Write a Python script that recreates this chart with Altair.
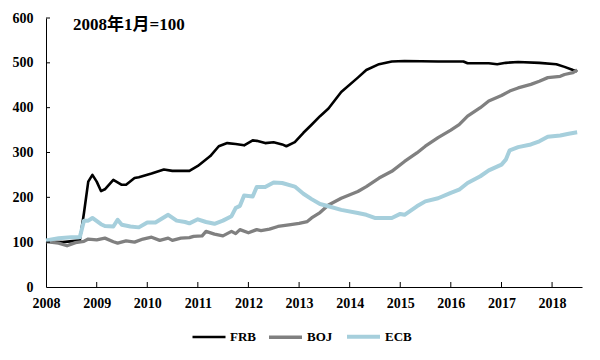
import altair as alt
import pandas as pd

# ---- data (index: Jan 2008 = 100) ----
frb_dates = ["2008-01", "2008-05", "2008-09", "2008-10", "2008-11", "2008-12", "2009-01", "2009-02",
             "2009-03", "2009-05", "2009-07", "2009-08", "2009-10", "2009-11", "2010-02", "2010-05",
             "2010-07", "2010-11", "2011-01", "2011-04", "2011-06", "2011-08", "2011-10", "2011-12",
             "2012-02", "2012-03", "2012-05", "2012-07", "2012-09", "2012-10", "2012-12", "2013-02",
             "2013-04", "2013-06", "2013-08", "2013-11", "2014-03", "2014-05", "2014-08", "2014-11",
             "2015-02", "2015-10", "2016-04", "2016-05", "2016-10", "2016-12", "2017-02", "2017-05",
             "2017-10", "2018-02", "2018-04", "2018-06", "2018-07"]
frb_values = [101, 100, 104, 165, 235, 250, 235, 214,
              218, 239, 228, 228, 243, 245, 253, 262,
              259, 259, 270, 292, 314, 321, 319, 316,
              327, 326, 321, 323, 318, 314, 323, 344,
              362, 381, 398, 435, 467, 484, 497, 503,
              504, 503, 503, 499, 499, 497, 500, 502,
              500, 497, 491, 484, 481]

boj_dates = ["2008-01", "2008-04", "2008-06", "2008-08", "2008-10", "2008-11", "2009-01", "2009-03",
             "2009-05", "2009-06", "2009-08", "2009-10", "2009-12", "2010-02", "2010-04", "2010-06",
             "2010-07", "2010-09", "2010-11", "2010-12", "2011-02", "2011-03", "2011-05", "2011-07",
             "2011-09", "2011-10", "2011-11", "2012-01", "2012-03", "2012-04", "2012-06", "2012-08",
             "2012-11", "2013-01", "2013-03", "2013-04", "2013-06", "2013-08", "2013-11", "2014-03",
             "2014-05", "2014-08", "2014-11", "2015-02", "2015-05", "2015-07", "2015-10", "2016-01",
             "2016-03", "2016-05", "2016-08", "2016-10", "2017-01", "2017-03", "2017-05", "2017-08",
             "2017-10", "2017-12", "2018-03", "2018-04", "2018-06", "2018-07"]
boj_values = [101, 98, 92, 99, 102, 107, 105, 109,
              101, 98, 103, 100, 107, 111, 104, 109,
              104, 109, 110, 113, 114, 124, 118, 114,
              124, 119, 128, 121, 128, 126, 129, 135,
              139, 142, 146, 154, 166, 183, 198, 213,
              224, 243, 258, 280, 299, 314, 333, 350,
              362, 381, 400, 415, 427, 437, 444, 452,
              459, 467, 470, 474, 478, 484]

ecb_dates = ["2008-01", "2008-04", "2008-07", "2008-09", "2008-10", "2008-11", "2008-12", "2009-02",
             "2009-03", "2009-05", "2009-06", "2009-07", "2009-09", "2009-11", "2010-01", "2010-03",
             "2010-06", "2010-08", "2010-10", "2010-11", "2011-01", "2011-03", "2011-05", "2011-07",
             "2011-09", "2011-10", "2011-11", "2011-12", "2012-02", "2012-03", "2012-05", "2012-07",
             "2012-09", "2012-12", "2013-02", "2013-04", "2013-06", "2013-08", "2013-11", "2014-03",
             "2014-05", "2014-07", "2014-11", "2015-01", "2015-02", "2015-05", "2015-07", "2015-10",
             "2016-01", "2016-03", "2016-05", "2016-08", "2016-10", "2017-01", "2017-02", "2017-03",
             "2017-05", "2017-08", "2017-10", "2017-12", "2018-03", "2018-05", "2018-07"]
ecb_values = [104, 109, 111, 111, 148, 148, 154, 140,
              136, 135, 150, 139, 135, 133, 144, 144,
              161, 148, 145, 142, 151, 145, 141, 148,
              158, 176, 181, 204, 202, 223, 223, 233,
              232, 224, 208, 196, 185, 180, 172, 165,
              161, 154, 154, 163, 161, 180, 191, 198,
              210, 217, 232, 247, 260, 273, 284, 305,
              312, 318, 325, 335, 338, 342, 345]

series_names = ["FRB", "BOJ", "ECB"]
series_colors = ["#000000", "#808080", "#a6cfdc"]
series_widths = [2.6, 4, 4]

year_ticks = list(range(2009, 2019))
y_ticks = [100, 200, 300, 400, 500, 600]
title_text = "2008年1月=100"

rows = []
for name, ds, vs in [("FRB", frb_dates, frb_values), ("BOJ", boj_dates, boj_values), ("ECB", ecb_dates, ecb_values)]:
    for d, v in zip(ds, vs):
        rows.append({"date": d + "-01T00:00:00", "bank": name, "value": v})
df = pd.DataFrame(rows)

W, H = 536, 269
FONT = "'Liberation Serif', 'Times New Roman', serif"

x_scale = alt.Scale(domain=[alt.DateTime(year=2008, month=1, date=1), alt.DateTime(year=2018, month=8, date=5)])
y_scale = alt.Scale(domain=[0, 600], nice=False)

x_axis = alt.Axis(values=[alt.DateTime(year=y, month=1, date=1) for y in range(2008, 2019)], format="%Y",
                  ticks=False, grid=False, domainColor="black", domainWidth=1, labelFont=FONT,
                  labelFontWeight="bold", labelFontSize=14, labelColor="black", labelPadding=9,
                  labelFlush=False, title=None)
y_axis = alt.Axis(values=[0, 100, 200, 300, 400, 500, 600], ticks=False, grid=False, domainColor="black",
                  domainWidth=1, labelFont=FONT, labelFontWeight="bold", labelFontSize=14,
                  labelColor="black", labelPadding=13, title=None)

lines = alt.Chart(df).mark_line(strokeJoin="round").encode(
    x=alt.X("date:T", scale=x_scale, axis=x_axis),
    y=alt.Y("value:Q", scale=y_scale, axis=y_axis),
    color=alt.Color("bank:N", scale=alt.Scale(domain=series_names, range=series_colors),
                    sort=series_names,
                    legend=alt.Legend(orient="none", legendX=145, legendY=300, direction="horizontal",
                                      title=None, symbolType="stroke", symbolSize=1089,
                                      symbolStrokeWidth=4, labelFont=FONT, labelFontWeight="bold",
                                      labelFontSize=13, labelColor="black", columnPadding=6,
                                      labelOffset=3)),
    strokeWidth=alt.StrokeWidth("bank:N", scale=alt.Scale(domain=series_names, range=series_widths),
                                legend=None),
)

xt = pd.DataFrame({"date": [f"{y}-01-01T00:00:00" for y in year_ticks]})
x_tick_marks = alt.Chart(xt).mark_rule(color="black", strokeWidth=1).encode(
    x=alt.X("date:T", scale=x_scale), y=alt.value(H - 5), y2=alt.value(H))

yt = pd.DataFrame({"v": y_ticks})
y_tick_marks = alt.Chart(yt).mark_rule(color="black", strokeWidth=1).encode(
    y=alt.Y("v:Q", scale=y_scale), x=alt.value(0), x2=alt.value(4))

title = alt.Chart(pd.DataFrame({"t": [title_text]})).mark_text(
    align="left", baseline="middle", font="'Liberation Serif', 'Noto Sans CJK SC', serif", fontSize=17,
    fontWeight="bold", color="black").encode(text="t:N", x=alt.value(27), y=alt.value(7))

chart = alt.layer(lines, x_tick_marks, y_tick_marks, title).properties(
    width=W, height=H, autosize=alt.AutoSizeParams(type="none"),
    padding={"left": 38, "top": 10, "right": 10, "bottom": 65},
    background="white",
).configure_view(stroke=None)

chart.save("out.html", embed_options={"renderer": "svg", "actions": False})
